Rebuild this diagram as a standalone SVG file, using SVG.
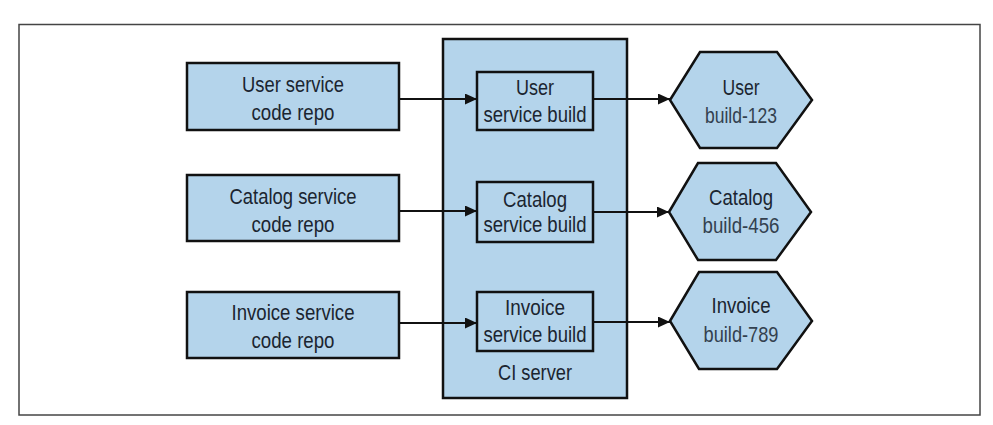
<svg xmlns="http://www.w3.org/2000/svg" width="993" height="425" viewBox="0 0 993 425">
<style>
.box{fill:#b4d4eb;stroke:#111;stroke-width:2.5}
.t{font-family:"Liberation Sans",Arial,sans-serif;font-size:22px;fill:#1b2530;text-anchor:middle}
.l{fill:#33414f}
.c{stroke:#111;stroke-width:2;fill:none;marker-end:url(#ah)}
</style>
<defs>
<marker id="ah" viewBox="0 0 12 11" refX="12" refY="5.5" markerWidth="12" markerHeight="11" markerUnits="userSpaceOnUse" orient="auto">
<path d="M0,0L12,5.5L0,11z" fill="#111"/>
</marker>
</defs>
<rect x="19" y="24.5" width="961" height="390.5" fill="#fff" stroke="#444" stroke-width="1.5"/>
<g id="ci-server">
<rect class="box" x="443" y="39" width="184" height="359"/>
<text class="t" x="535" y="380" textLength="74" lengthAdjust="spacingAndGlyphs">CI server</text>
</g>
<g id="user-repo">
<rect class="box" x="187" y="63" width="212" height="67"/>
<text class="t" x="293" y="92" textLength="102" lengthAdjust="spacingAndGlyphs">User service</text>
<text class="t" x="293" y="120" textLength="83" lengthAdjust="spacingAndGlyphs">code repo</text>
</g>
<g id="catalog-repo">
<rect class="box" x="187" y="175" width="212" height="66"/>
<text class="t" x="293" y="204" textLength="127" lengthAdjust="spacingAndGlyphs">Catalog service</text>
<text class="t" x="293" y="232" textLength="83" lengthAdjust="spacingAndGlyphs">code repo</text>
</g>
<g id="invoice-repo">
<rect class="box" x="187" y="292" width="212" height="66"/>
<text class="t" x="293" y="320" textLength="123" lengthAdjust="spacingAndGlyphs">Invoice service</text>
<text class="t" x="293" y="348" textLength="83" lengthAdjust="spacingAndGlyphs">code repo</text>
</g>
<g id="user-build">
<rect class="box" x="477" y="72" width="116" height="58"/>
<text class="t" x="535" y="95" textLength="38" lengthAdjust="spacingAndGlyphs">User</text>
<text class="t" x="535" y="122" textLength="103" lengthAdjust="spacingAndGlyphs">service build</text>
</g>
<g id="catalog-build">
<rect class="box" x="477" y="182" width="116" height="60"/>
<text class="t" x="535" y="207" textLength="64" lengthAdjust="spacingAndGlyphs">Catalog</text>
<text class="t" x="535" y="232" textLength="103" lengthAdjust="spacingAndGlyphs">service build</text>
</g>
<g id="invoice-build">
<rect class="box" x="477" y="292" width="116" height="59"/>
<text class="t" x="535" y="315" textLength="60" lengthAdjust="spacingAndGlyphs">Invoice</text>
<text class="t" x="535" y="342" textLength="103" lengthAdjust="spacingAndGlyphs">service build</text>
</g>
<g id="user-artifact">
<polygon class="box" points="670,100 700,52 777,52 812,100 777,148 700,148"/>
<text class="t" x="741" y="95" textLength="37" lengthAdjust="spacingAndGlyphs">User</text>
<text class="t l" x="741" y="123" textLength="72" lengthAdjust="spacingAndGlyphs">build-123</text>
</g>
<g id="catalog-artifact">
<polygon class="box" points="669,212 698,163 776,163 811,212 776,260 698,260"/>
<text class="t" x="741" y="205" textLength="64" lengthAdjust="spacingAndGlyphs">Catalog</text>
<text class="t l" x="741" y="233" textLength="77" lengthAdjust="spacingAndGlyphs">build-456</text>
</g>
<g id="invoice-artifact">
<polygon class="box" points="670,321 699,272 777,272 812,321 777,369 699,369"/>
<text class="t" x="741" y="313" textLength="59" lengthAdjust="spacingAndGlyphs">Invoice</text>
<text class="t l" x="741" y="342" textLength="75" lengthAdjust="spacingAndGlyphs">build-789</text>
</g>
<g id="connectors">
<path class="c" d="M399,99H477"/>
<path class="c" d="M593,99H670"/>
<path class="c" d="M399,211H477"/>
<path class="c" d="M593,212H669"/>
<path class="c" d="M399,323H477"/>
<path class="c" d="M593,322H670"/>
</g>
</svg>
